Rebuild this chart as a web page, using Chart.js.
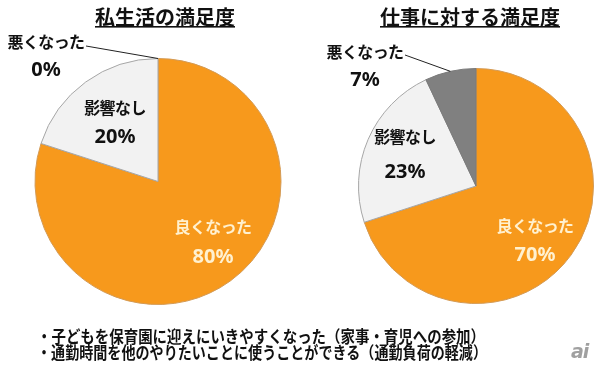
<!DOCTYPE html>
<html><head><meta charset="utf-8">
<script src="https://cdn.jsdelivr.net/npm/chart.js@4"></script>
<style>
html,body{margin:0;padding:0;background:#fff;}
#wrap{position:relative;width:600px;height:370px;overflow:hidden;background:#fff;font-family:"Noto Sans CJK JP","Noto Sans",sans-serif;}
canvas{position:absolute;top:0;}
#c1{left:0;} #c2{left:300px;}
.note{position:absolute;left:37px;font-weight:700;font-size:16.5px;color:#111;white-space:nowrap;line-height:17px;transform-origin:0 50%;}
#logo{position:absolute;left:571px;top:340px;font-family:"DejaVu Sans",sans-serif;font-style:italic;font-weight:700;font-size:19px;color:#a0a0a0;letter-spacing:-1px;}
</style></head>
<body><div id="wrap">
<canvas id="c1" width="300" height="370"></canvas>
<canvas id="c2" width="300" height="370"></canvas>
<div class="note" id="n1" style="top:328px"></div>
<div class="note" id="n2" style="top:344px"></div>
<div id="logo">ai</div>
</div>
<script>
const categories = ['良くなった', '影響なし', '悪くなった'];
const privateValues = [80, 20, 0];
const workValues = [70, 23, 7];
const titles = ['私生活の満足度', '仕事に対する満足度'];
const notes = ['・子どもを保育園に迎えにいきやすくなった（家事・育児への参加）',
               '・通勤時間を他のやりたいことに使うことができる（通勤負荷の軽減）'];

const noteWidths = [448, 450];
['n1', 'n2'].forEach((id, i) => {
  const el = document.getElementById(id);
  el.textContent = notes[i];
  const w = el.getBoundingClientRect().width;
  el.style.transform = 'scaleX(' + (noteWidths[i] / w) + ')';
});

const FONT = '"Noto Sans CJK JP","Noto Sans",sans-serif';
const fills = ['#F7991C', '#F2F2F2', '#808080'];
const borders = ['#D39A55', '#A6A6A6', '#7A7A7A'];
const textColors = ['#FFF1D0', '#111111', '#111111'];

const labelPlugin = {
  id: 'labels',
  afterDraw(chart, args, opts) {
    const ctx = chart.ctx;
    const meta = chart.getDatasetMeta(0);
    const vals = chart.data.datasets[0].data;
    ctx.save();
    // title
    ctx.font = 'bold 20px ' + FONT;
    ctx.fillStyle = '#111';
    ctx.textAlign = 'center';
    ctx.textBaseline = 'middle';
    ctx.fillText(opts.title, opts.titlePos[0], opts.titlePos[1]);
    const tw = ctx.measureText(opts.title).width;
    ctx.fillRect(opts.titlePos[0] - tw / 2, opts.titlePos[1] + 9, tw, 1.6);
    // leader line to the "悪くなった" slice
    const arc = meta.data[2];
    const mid = (arc.startAngle + arc.endAngle) / 2;
    const ex = arc.x + Math.cos(mid) * arc.outerRadius;
    const ey = arc.y + Math.sin(mid) * arc.outerRadius;
    ctx.strokeStyle = '#222';
    ctx.lineWidth = 1;
    ctx.beginPath();
    ctx.moveTo(opts.leader[0], opts.leader[1]);
    ctx.lineTo(ex, ey);
    ctx.stroke();
    // slice labels
    for (let i = 0; i < categories.length; i++) {
      const p = opts.pos[i];
      ctx.fillStyle = textColors[i];
      ctx.font = 'bold 16px ' + FONT;
      ctx.letterSpacing = '-0.6px';
      ctx.fillText(chart.data.labels[i], p[0], p[1]);
      ctx.font = 'bold 20px "Noto Sans",sans-serif';
      ctx.letterSpacing = '0px';
      ctx.fillText(vals[i] + '%', p[0], p[2]);
    }
    ctx.restore();
  }
};

function makePie(id, values, pad, title, titlePos, pos, leader) {
  return new Chart(document.getElementById(id), {
    type: 'pie',
    data: {
      labels: categories,
      datasets: [{ data: values, backgroundColor: fills, borderColor: borders, borderWidth: 1 }]
    },
    options: {
      responsive: false,
      animation: false,
      events: [],
      rotation: 0,
      layout: { padding: pad },
      plugins: {
        legend: { display: false },
        tooltip: { enabled: false },
        labels: { title, titlePos, pos, leader }
      }
    },
    plugins: [labelPlugin]
  });
}

makePie('c1', privateValues, { left: 34, right: 18, top: 58, bottom: 65 },
  titles[0], [165, 17],
  [[213, 227, 257], [115, 108, 137], [46, 42, 70]], [86, 46]);
makePie('c2', workValues, { left: 58, right: 6, top: 68, bottom: 66 },
  titles[1], [170, 17],
  [[235, 226, 255], [105, 137, 172], [65, 52, 80]], [105, 55]);
</script>
</body></html>
